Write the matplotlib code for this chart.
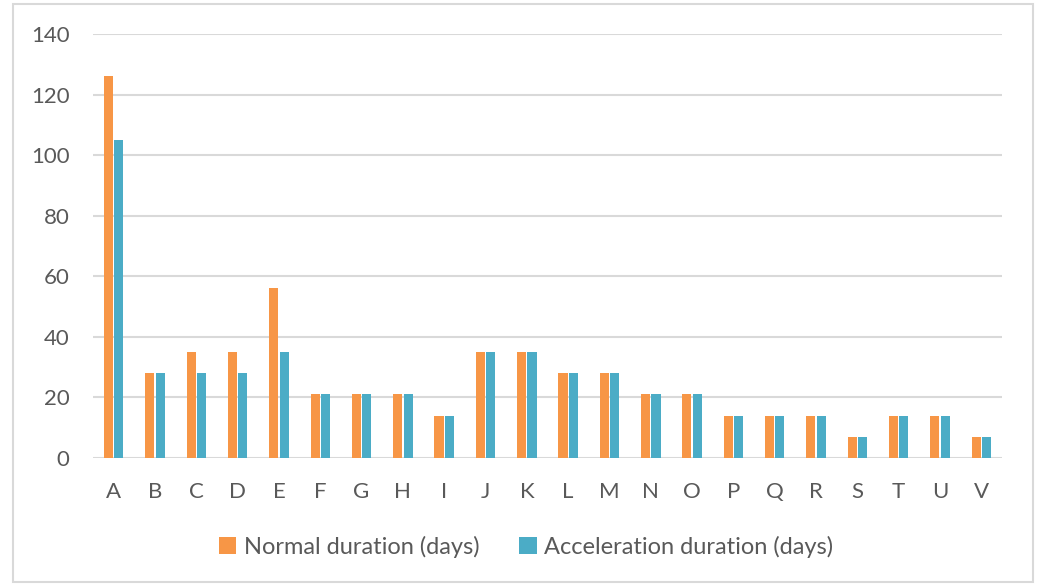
import matplotlib
matplotlib.use("Agg")
import matplotlib.pyplot as plt
import numpy as np
from matplotlib.patches import Rectangle

categories = list("ABCDEFGHIJKLMNOPQRSTUV")
normal_days = [126, 28, 35, 35, 56, 21, 21, 21, 14, 35, 35, 28, 28, 21, 21, 14, 14, 14, 7, 14, 14, 7]
accel_days = [105, 28, 28, 28, 35, 21, 21, 21, 14, 35, 35, 28, 28, 21, 21, 14, 14, 14, 7, 14, 14, 7]
y_ticks = [0, 20, 40, 60, 80, 100, 120, 140]

plt.rcParams['font.family'] = ['Lato', 'DejaVu Sans']

fig = plt.figure(figsize=(10.4, 5.86), dpi=100)
fig.patch.set_facecolor("white")

# outer chart frame
fig.patches.append(Rectangle((13 / 1040, 4 / 586), 1020 / 1040, 578 / 586,
                             transform=fig.transFigure, fill=False,
                             edgecolor="#D9D9D9", linewidth=1.5))

ax = fig.add_axes([93 / 1040, 1 - 458 / 586, 909 / 1040, 424 / 586])

x = np.arange(len(categories))
w = 0.22
gap = 0.03
orange = "#F79646"
blue = "#4BACC6"
ax.bar(x - (w + gap) / 2, normal_days, width=w, color=orange, label="Normal duration (days)", zorder=3)
ax.bar(x + (w + gap) / 2, accel_days, width=w, color=blue, label="Acceleration duration (days)", zorder=3)

ax.set_xlim(-0.5, len(categories) - 0.5)
ax.set_ylim(0, 140)
ax.set_yticks(y_ticks)
ax.set_xticks(x)
ax.set_xticklabels(categories)
ax.yaxis.grid(True, color="#D9D9D9", linewidth=1.5, zorder=0)
ax.set_axisbelow(True)
for s in ax.spines.values():
    s.set_visible(False)
ax.tick_params(axis="both", length=0, labelsize=16, labelcolor="#595959")
ax.tick_params(axis="x", pad=17)
ax.tick_params(axis="y", pad=17)

fig.legend(loc="center", bbox_to_anchor=(526 / 1040, 1 - 547 / 586), ncol=2,
           frameon=False, fontsize=17, labelcolor="#595959",
           handlelength=0.75, handleheight=0.75, handletextpad=0.3, columnspacing=1.7)

fig.savefig("out.png", dpi=100, facecolor="white")
